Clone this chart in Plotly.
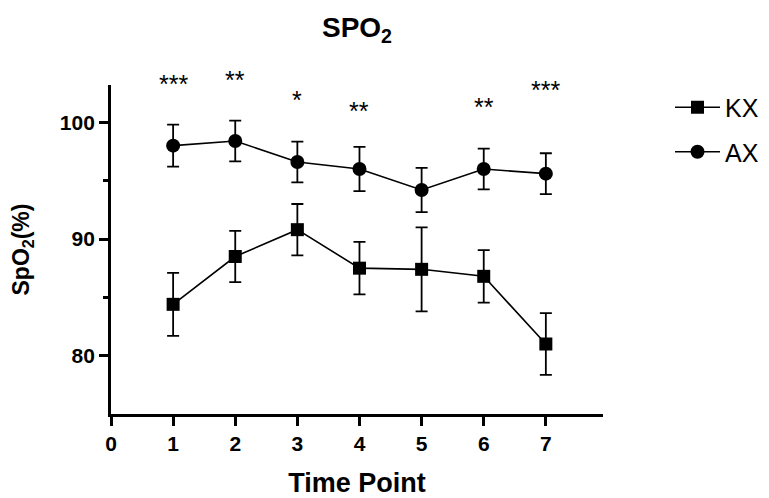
import plotly.graph_objects as go

time_points = [1, 2, 3, 4, 5, 6, 7]
kx_mean = [84.4, 88.5, 90.8, 87.5, 87.4, 86.8, 81.0]
kx_err = [2.7, 2.2, 2.2, 2.25, 3.6, 2.25, 2.65]
ax_mean = [98.0, 98.4, 96.6, 96.0, 94.2, 96.0, 95.6]
ax_err = [1.8, 1.75, 1.75, 1.9, 1.9, 1.75, 1.75]
sig_labels = ["***", "**", "*", "**", "", "**", "***"]
sig_y = [103.3, 103.6, 101.9, 101.0, 0, 101.3, 102.8]
x_ticks = [0, 1, 2, 3, 4, 5, 6, 7]
y_ticks = [80, 90, 100]

Y_MIN, Y_MAX = 75, 103.2
FONT = "Arial, Liberation Sans, Helvetica, sans-serif"

# page body has an 8px margin; compensate so the plot lands where the reference has it
W, H = 761, 490
L, T, PW, PH = 103, 77, 492, 329

fig = go.Figure()
fig.add_trace(go.Scatter(
    x=time_points, y=kx_mean, name="KX", mode="lines+markers",
    legendgroup="kx",
    line=dict(color="black", width=1.6),
    marker=dict(symbol="square", size=13, color="black"),
    error_y=dict(type="data", array=kx_err, color="black", thickness=1.8, width=6),
))
fig.add_trace(go.Scatter(
    x=time_points, y=ax_mean, name="AX", mode="lines+markers",
    legendgroup="ax",
    line=dict(color="black", width=1.6),
    marker=dict(symbol="circle", size=14, color="black"),
    error_y=dict(type="data", array=ax_err, color="black", thickness=1.8, width=6),
))

for xv, lab, yv in zip(time_points, sig_labels, sig_y):
    if lab:
        fig.add_annotation(x=xv, y=(yv - Y_MIN) / (Y_MAX - Y_MIN), xref="x", yref="paper",
                           text=lab, showarrow=False, yanchor="middle",
                           font=dict(family=FONT, size=25, color="black"))

fig.update_layout(
    width=W, height=H,
    margin=dict(l=L, r=W - L - PW, t=T, b=H - T - PH, autoexpand=False),
    paper_bgcolor="white", plot_bgcolor="white",
    font=dict(family=FONT, color="black"),
    title=dict(text="<b>SPO<sub>2</sub></b>", x=(L + PW / 2) / W, xanchor="center",
               y=1 - 19 / H, yanchor="middle",
               font=dict(family=FONT, size=28, color="black")),
    legend=dict(xref="container", yref="container",
                x=662 / W, y=1 - 76.5 / H, xanchor="left", yanchor="top",
                font=dict(family=FONT, size=25, color="black"),
                itemwidth=45,
                tracegroupgap=9, bgcolor="rgba(0,0,0,0)"),
    showlegend=True,
)

fig.update_xaxes(
    automargin=False,
    range=[0, 7.92], tickvals=x_ticks, ticktext=[f"<b>{v}</b>" for v in x_ticks],
    showgrid=False, zeroline=False, showline=True, linecolor="black", linewidth=2.8,
    ticks="outside", ticklen=9, tickwidth=2.5, tickcolor="black",
    tickfont=dict(family=FONT, size=21, color="black"),
    title=dict(text="<b>Time Point</b>", font=dict(family=FONT, size=27, color="black"), standoff=29),
)
fig.update_yaxes(
    automargin=False,
    range=[Y_MIN, Y_MAX], tickvals=y_ticks, ticktext=[f"<b>{v}</b>" for v in y_ticks],
    showgrid=False, zeroline=False, showline=True, linecolor="black", linewidth=2.8,
    ticks="outside", ticklen=9, tickwidth=2.5, tickcolor="black",
    minor=dict(tickvals=[85, 95], ticklen=5, tickwidth=2.5, tickcolor="black", ticks="outside", showgrid=False),
    tickfont=dict(family=FONT, size=21, color="black"),
    title=dict(text="<b>SpO<sub>2</sub>(%)</b>", font=dict(family=FONT, size=23, color="black"), standoff=24),
)

fig.write_html("out.html")
